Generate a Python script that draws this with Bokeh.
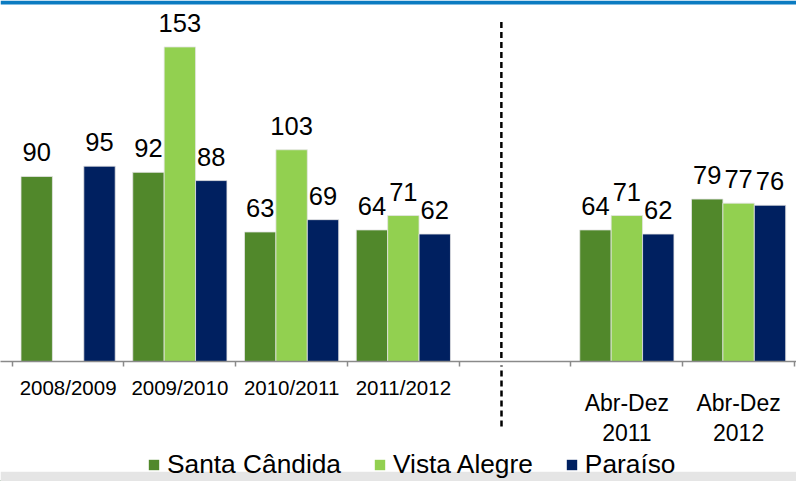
from bokeh.plotting import figure
from bokeh.models import (Range1d, FixedTicker, LinearAxis, ColumnDataSource, Arrow,
                          BoxAnnotation, Legend, LegendItem)
from bokeh.core.properties import value
from bokeh.layouts import column
from bokeh.embed import file_html
from bokeh.resources import INLINE

# ---------------- data ----------------
categories = ["2008/2009", "2009/2010", "2010/2011", "2011/2012", "",
              "Abr-Dez\n2011", "Abr-Dez\n2012"]
series_names = ["Santa Cândida", "Vista Alegre", "Paraíso"]
santa_candida = [90, 92, 63, 64, None, 64, 79]
vista_alegre = [None, 153, 103, 71, None, 71, 77]
paraiso = [95, 88, 69, 62, None, 62, 76]
colors = ["#51882B", "#92D050", "#002060"]

# ---------------- layout constants ----------------
FONT = "Liberation Sans"
W = 796
FRAME_H = 361
AXIS_H = 89
LEG_H = 31
Y_MAX = 175.6
X_START, X_END = -0.605, 6.518
BAR_W = 0.281
OFFSETS = [-0.281, 0.0, 0.281]
DIVIDER_X = 3.877
PX_PER_UNIT = FRAME_H / Y_MAX
AX1_STANDOFF = 9
AX1_EXTENT = 35          # estimated size of the first axis panel
DASH_BELOW = 60          # how far the divider goes below the axis line

p = figure(width=W, height=FRAME_H + AXIS_H,
           x_range=Range1d(X_START, X_END), y_range=Range1d(0, Y_MAX),
           output_backend="svg", toolbar_location=None,
           x_axis_type=None, y_axis_type=None,
           min_border_left=0, min_border_right=0, min_border_top=0,
           min_border_bottom=AXIS_H)
p.outline_line_color = None
p.background_fill_color = "white"
p.border_fill_color = "white"

# top blue band
p.add_layout(BoxAnnotation(left=X_START, right=X_END, bottom=Y_MAX - 4 / PX_PER_UNIT, top=Y_MAX,
                           fill_color="#0B7BC1", fill_alpha=1, line_color=None))

series = [santa_candida, vista_alegre, paraiso]
for vals, off, col in zip(series, OFFSETS, colors):
    xs = [i + off for i, v in enumerate(vals) if v is not None]
    ys = [v for v in vals if v is not None]
    src = ColumnDataSource(dict(x=xs, top=ys, label=[str(v) for v in ys]))
    p.vbar(x="x", top="top", width=BAR_W, bottom=0, source=src,
           fill_color=col, line_color="#E4E4E4", line_width=0.8)
    p.text(x="x", y="top", text="label", source=src,
           text_align="center", text_baseline="alphabetic", y_offset=-24,
           text_font=value(FONT), text_font_size="25.5px", text_color="black")

# axis 1: axis line, boundary ticks and the first four labels
ax1 = LinearAxis(ticker=FixedTicker(ticks=[0, 1, 2, 3],
                                    minor_ticks=[i - 0.5 for i in range(len(categories) + 1)]),
                 major_label_overrides={i: categories[i] for i in range(4)})
ax1.axis_line_color = "#8A8A8A"
ax1.axis_line_width = 1.5
ax1.major_tick_line_color = None
ax1.major_tick_out = 0
ax1.major_tick_in = 0
ax1.minor_tick_line_color = "#8A8A8A"
ax1.minor_tick_line_width = 1.5
ax1.minor_tick_out = 5
ax1.minor_tick_in = 0
ax1.major_label_standoff = AX1_STANDOFF
ax1.major_label_text_font = FONT
ax1.major_label_text_font_size = "20.5px"
ax1.major_label_text_color = "black"
p.add_layout(ax1, "below")

# divider axis: its single tick continues the dashed line below the plot frame
axd = LinearAxis(ticker=FixedTicker(ticks=[DIVIDER_X], minor_ticks=[]),
                 major_label_overrides={DIVIDER_X: ""})
axd.axis_line_color = None
axd.minor_tick_line_color = None
axd.major_tick_line_color = "black"
axd.major_tick_line_width = 2.5
axd.major_tick_line_dash = "6 4"
axd.major_tick_in = AX1_EXTENT + 1
axd.major_tick_out = DASH_BELOW - AX1_EXTENT
axd.major_label_text_color = None
axd.major_label_text_font_size = "1px"
axd.major_label_standoff = 0
p.add_layout(axd, "below")

# axis 2: Abr-Dez labels
ax2 = LinearAxis(ticker=FixedTicker(ticks=[5, 6], minor_ticks=[]),
                 major_label_overrides={5: categories[5], 6: categories[6]})
ax2.axis_line_color = None
ax2.major_tick_line_color = None
ax2.minor_tick_line_color = None
ax2.major_tick_out = 0
ax2.major_tick_in = 0
ax2.major_label_standoff = -37
ax2.major_label_text_font = FONT
ax2.major_label_text_font_size = "23px"
ax2.major_label_text_color = "black"
ax2.major_label_text_line_height = 1.18
p.add_layout(ax2, "below")

# dashed divider inside the frame
p.add_layout(Arrow(end=None, x_start=DIVIDER_X, y_start=165.2, x_end=DIVIDER_X, y_end=0,
                   line_color="black", line_width=2.5, line_dash="6 4"))

# ---------------- legend strip ----------------
leg = figure(width=W, height=LEG_H, x_range=Range1d(0, W), y_range=Range1d(0, LEG_H),
             output_backend="svg", toolbar_location=None,
             x_axis_type=None, y_axis_type=None, min_border=0)
leg.outline_line_color = None
leg.add_layout(BoxAnnotation(left=0, right=W, bottom=0, top=9.7,
                             fill_color="#E5E5E5", fill_alpha=1, line_color=None))
items = []
for name, col in zip(series_names, colors):
    # legend proxy placed outside the visible range
    r = leg.vbar(x=[-1000], top=[1], width=1, fill_color=col, line_color=None)
    items.append(LegendItem(label=name, renderers=[r]))
legend = Legend(items=items, location=(147, 1), orientation="horizontal",
                glyph_width=13, glyph_height=13, label_standoff=7, spacing=32,
                padding=0, margin=0, border_line_color=None, background_fill_alpha=0,
                label_text_font=FONT, label_text_font_size="26.3px", label_text_color="black")
leg.add_layout(legend)

layout = column(p, leg, spacing=0)
open("out.html", "w").write(file_html(layout, INLINE))
